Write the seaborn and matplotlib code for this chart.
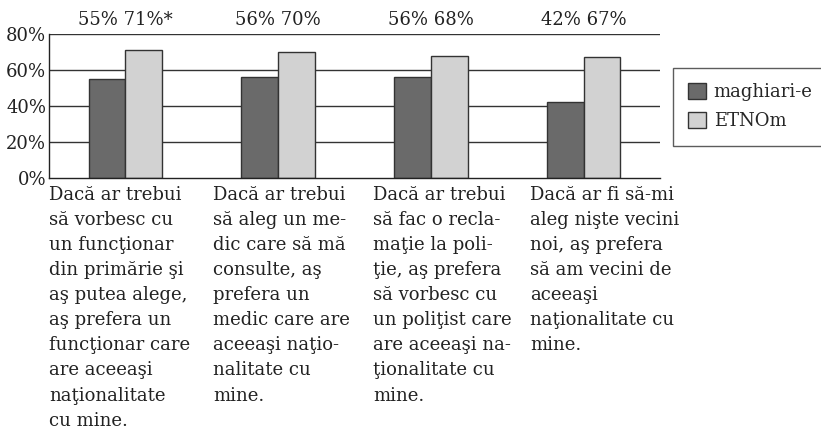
import matplotlib
matplotlib.use("Agg")
import matplotlib.pyplot as plt
import seaborn as sns
import pandas as pd

categories = [
    "Dacă ar trebui\nsă vorbesc cu\nun funcţionar\ndin primărie şi\naş putea alege,\naş prefera un\nfuncţionar care\nare aceeaşi\nnaţionalitate\ncu mine.",
    "Dacă ar trebui\nsă aleg un me-\ndic care să mă\nconsulte, aş\nprefera un\nmedic care are\naceeaşi naţio-\nnalitate cu\nmine.",
    "Dacă ar trebui\nsă fac o recla-\nmaţie la poli-\nţie, aş prefera\nsă vorbesc cu\nun poliţist care\nare aceeaşi na-\nţionalitate cu\nmine.",
    "Dacă ar fi să-mi\naleg nişte vecini\nnoi, aş prefera\nsă am vecini de\naceeaşi\nnaţionalitate cu\nmine.",
]
series_names = ["maghiari-e", "ETNOm"]
maghiari = [55, 56, 56, 42]
etnom = [71, 70, 68, 67]
markers = ["*", "", "", ""]
yticks = [0, 20, 40, 60, 80]

df = pd.DataFrame({
    "cat": list(range(len(categories))) * 2,
    "group": [series_names[0]] * 4 + [series_names[1]] * 4,
    "value": maghiari + etnom,
})

sns.set_theme(style="white")
plt.rcParams["font.family"] = ["DejaVu Serif"]

FS = 13
W, H = 821, 432
fig = plt.figure(figsize=(W / 100, H / 100), dpi=100)
ax = fig.add_axes([49 / W, 1 - 178 / H, (660 - 49) / W, (178 - 34) / H])

for y in yticks[1:]:
    ax.axhline(y, color="#333333", lw=1, zorder=0)

sns.barplot(data=df, x="cat", y="value", hue="group",
            palette=["#6a6a6a", "#d2d2d2"], width=0.48,
            edgecolor="#333333", linewidth=1, ax=ax, zorder=2)

ax.set_ylim(0, 80)
ax.set_xlim(-0.5, 3.5)
ax.set_yticks(yticks)
ax.set_yticklabels([f"{v}%" for v in yticks], fontsize=FS, color="#222222")
ax.tick_params(axis="y", length=0, pad=2)
ax.set_xticks([])
ax.set_xlabel("")
ax.set_ylabel("")
for s in ["top", "right"]:
    ax.spines[s].set_visible(False)
for s in ["left", "bottom"]:
    ax.spines[s].set_color("#222222")
    ax.spines[s].set_linewidth(1)

for i, (a, b, m) in enumerate(zip(maghiari, etnom, markers)):
    ax.text(i, 1.10, f"{a}% {b}%{m}", transform=ax.get_xaxis_transform(),
            ha="center", va="center", fontsize=FS, color="#222222")

label_x = [49, 213, 373, 530]
for lx, txt in zip(label_x, categories):
    fig.text(lx / W, 1 - 186 / H, txt, ha="left", va="top", fontsize=FS,
             linespacing=1.505, color="#222222")

leg = ax.legend(loc="upper left", bbox_to_anchor=(673 / W, 1 - 68 / H),
                bbox_transform=fig.transFigure, fontsize=FS, frameon=True,
                fancybox=False, edgecolor="#333333", handlelength=0.95,
                handleheight=0.95, handletextpad=0.45, borderpad=0.85,
                labelspacing=0.6, borderaxespad=0)
leg.get_frame().set_linewidth(1)

fig.savefig("out.png", dpi=100)
